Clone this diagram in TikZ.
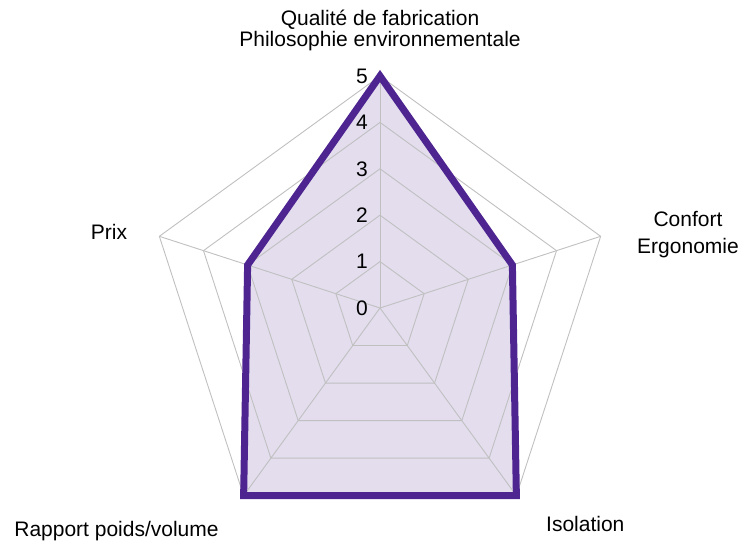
\documentclass[tikz,border=0pt]{standalone}
\usepackage{fontspec}
\setmainfont{Liberation Sans}
\definecolor{gridgray}{RGB}{192,192,192}
\definecolor{datapurple}{RGB}{78,36,145}
\definecolor{datafill}{RGB}{227,221,238}
\begin{document}
\begin{tikzpicture}[x=1pt,y=1pt,
  gridline/.style={draw=gridgray,line width=0.9pt},
  dataline/.style={draw=datapurple,line width=7pt,line join=miter},
  lbl/.style={font=\fontsize{21}{25}\selectfont,inner sep=0pt,anchor=base},
  ticklbl/.style={font=\fontsize{21}{25}\selectfont,inner sep=0pt}]
\useasboundingbox (0,0) rectangle (750,-554);
\coordinate (c) at (380,-308);
\def\u{46.4}
\foreach \k in {1,...,5}{
  \foreach \i/\a in {0/90,1/18,2/-54,3/-126,4/162}{
    \path (c) ++(\a:\k*\u) coordinate (r\k-\i);
  }
}
% data values
\foreach \i/\a/\v in {0/90/5,1/18/3,2/-54/5,3/-126/5,4/162/3}{
  \path (c) ++(\a:\v*\u) coordinate (d\i);
}
\fill[datafill] (d0) -- (d1) -- (d2) -- (d3) -- (d4) -- cycle;
% grid rings
\foreach \k in {1,...,5}{
  \draw[gridline] (r\k-0) -- (r\k-1) -- (r\k-2) -- (r\k-3) -- (r\k-4) -- cycle;
}
% spokes
\foreach \i in {0,...,4}{
  \draw[gridline] (c) -- (r5-\i);
}
% data outline
\draw[dataline] (d0) -- (d1) -- (d2) -- (d3) -- (d4) -- cycle;
% tick labels
\foreach \k in {0,...,5}{
  \node[ticklbl] (t\k) at (362,-308+\k*\u) {\k};
}
% axis labels
\node[lbl] (q1) at (380,-25) {Qualité de fabrication};
\node[lbl] (q2) at (380,-46) {Philosophie environnementale};
\node[lbl] (cf1) at (688,-226.5) {Confort};
\node[lbl] (cf2) at (688,-253) {Ergonomie};
\node[lbl] (px) at (109,-239) {Prix};
\node[lbl] (rp) at (116.5,-536) {Rapport poids/volume};
\node[lbl] (is) at (585.3,-531.7) {Isolation};
\end{tikzpicture}
\end{document}
